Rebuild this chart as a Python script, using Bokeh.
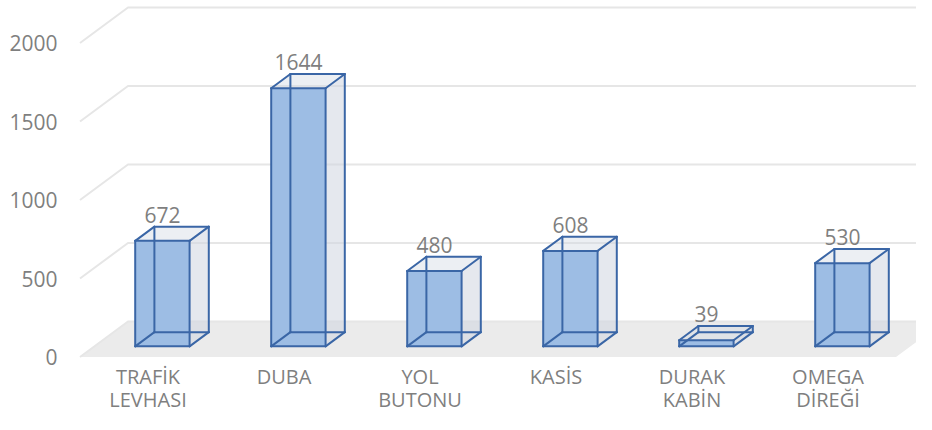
from bokeh.plotting import figure
from bokeh.models import Range1d, FixedTicker
from bokeh.core.properties import value
from bokeh.embed import file_html
from bokeh.resources import INLINE

# ---- data ----
categories = ["TRAFİK\nLEVHASI", "DUBA", "YOL\nBUTONU", "KASİS", "DURAK\nKABİN", "OMEGA\nDİREĞİ"]
values = [672, 1644, 480, 608, 39, 530]
y_ticks = [0, 500, 1000, 1500, 2000]

# ---- layout / projection constants (canvas pixels) ----
W, H = 916, 414
LEFT_BORDER = 62
PX_PER_CAT = 136.0
PX_PER_UNIT = 0.157
X0_PX = 147.5        # canvas x of category 0 on the front plane
Y0_PX = 356.5        # canvas y of value 0 on the front plane
DX = 48.0 / PX_PER_CAT          # full-depth offset in category units
DY = 35.5 / PX_PER_UNIT         # full-depth offset in value units
D0, D1 = 0.3, 0.7               # bar front/back depth
HALF_W = 0.2                    # half bar width in category units

x_left = (LEFT_BORDER - X0_PX) / PX_PER_CAT
x_right = (W - X0_PX) / PX_PER_CAT
y_top = Y0_PX / PX_PER_UNIT
y_bot = (Y0_PX - H) / PX_PER_UNIT

FONT = "Open Sans"
FS = "21px"
TXT = "#7f7f7f"
EDGE = "#3a66a6"

p = figure(width=W, height=H, output_backend="svg", toolbar_location=None,
           x_range=Range1d(x_left, x_right), y_range=Range1d(y_bot, y_top),
           x_axis_location=None, y_axis_location="left",
           min_border_left=LEFT_BORDER, min_border_right=0,
           min_border_top=0, min_border_bottom=0)
p.outline_line_color = None
p.grid.visible = False
p.background_fill_color = "white"
p.border_fill_color = "white"

# y axis
ax = p.yaxis[0]
ax.ticker = FixedTicker(ticks=y_ticks)
ax.axis_line_color = None
ax.major_tick_line_color = None
ax.minor_tick_line_color = None
ax.major_tick_out = 0
ax.major_tick_in = 0
ax.major_label_standoff = 5
ax.major_label_text_font = FONT
ax.major_label_text_font_size = FS
ax.major_label_text_color = TXT

n = len(categories)
xmin_c, xmax_c = -0.5, n - 0.5

# floor
p.patch([xmin_c, xmax_c, xmax_c + DX, xmin_c + DX], [0, 0, DY, DY],
        fill_color="#ebebeb", line_color=None)

# gridlines (side diagonal + back wall)
gx, gy = [], []
for t in y_ticks:
    gx.append([xmin_c, xmin_c + DX, xmax_c + DX + 1])
    gy.append([t, t + DY, t + DY])
p.multi_line(gx, gy, line_color="#e6e6e6", line_width=2)

# bars
side_xs, side_ys, top_xs, top_ys = [], [], [], []
fl, fr, fb, ft = [], [], [], []
ex, ey = [], []
lab_x, lab_y = [], []
for i, v in enumerate(values):
    L0, R0 = i + D0 * DX - HALF_W, i + D0 * DX + HALF_W
    L1, R1 = i + D1 * DX - HALF_W, i + D1 * DX + HALF_W
    B0, B1 = D0 * DY, D1 * DY
    T0, T1 = v + D0 * DY, v + D1 * DY
    side_xs.append([R0, R1, R1, R0]); side_ys.append([B0, B1, T1, T0])
    top_xs.append([L0, R0, R1, L1]); top_ys.append([T0, T0, T1, T1])
    fl.append(L0); fr.append(R0); fb.append(B0); ft.append(T0)
    edges = [
        ((L0, B0), (R0, B0)), ((R0, B0), (R0, T0)), ((R0, T0), (L0, T0)), ((L0, T0), (L0, B0)),
        ((L1, B1), (R1, B1)), ((R1, B1), (R1, T1)), ((R1, T1), (L1, T1)), ((L1, T1), (L1, B1)),
        ((L0, B0), (L1, B1)), ((R0, B0), (R1, B1)), ((R0, T0), (R1, T1)), ((L0, T0), (L1, T1)),
    ]
    for (a, b) in edges:
        ex.append([a[0], b[0]]); ey.append([a[1], b[1]])
    lab_x.append(i + D0 * DX)
    lab_y.append(T1)

p.patches(side_xs, side_ys, fill_color="#d0d6e0", fill_alpha=0.55, line_color=None)
p.patches(top_xs, top_ys, fill_color="#d0d6e0", fill_alpha=0.4, line_color=None)
p.quad(left=fl, right=fr, bottom=fb, top=ft, fill_color="#9dbde4", fill_alpha=1.0, line_color=None)
p.multi_line(ex, ey, line_color=EDGE, line_width=2, line_join="round", line_cap="round")

# data labels
p.text(x=lab_x, y=lab_y, text=[str(v) for v in values], text_font=value(FONT),
       text_font_size=FS, text_color=TXT, text_align="center",
       text_baseline="alphabetic", y_offset=-12)

# category labels
p.text(x=list(range(n)), y=[0] * n, text=categories, text_font=value(FONT),
       text_font_size="20px", text_color=TXT, text_align="center",
       text_baseline="top", text_line_height=0.87, y_offset=6)

open("out.html", "w").write(file_html(p, INLINE))
